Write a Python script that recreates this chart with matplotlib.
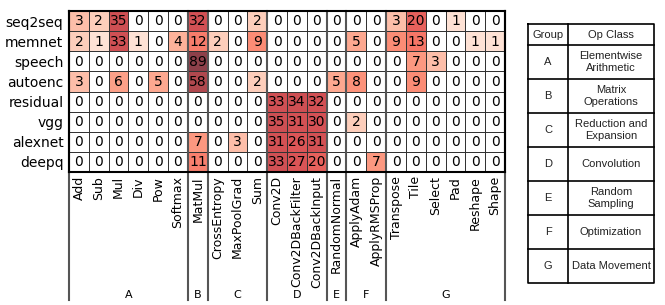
import numpy as np
import matplotlib
matplotlib.use("Agg")
import matplotlib.pyplot as plt
from matplotlib.colors import ListedColormap, FuncNorm

# modelle / ops
models = ['seq2seq', 'memnet', 'speech', 'autoenc', 'residual', 'vgg', 'alexnet', 'deepq']
ops = ['Add', 'Sub', 'Mul', 'Div', 'Pow', 'Softmax',
       'MatMul',
       'CrossEntropy', 'MaxPoolGrad', 'Sum',
       'Conv2D', 'Conv2DBackFilter', 'Conv2DBackInput',
       'RandomNormal',
       'ApplyAdam', 'ApplyRMSProp',
       'Transpose', 'Tile', 'Select', 'Pad', 'Reshape', 'Shape']
group_names = ['A', 'B', 'C', 'D', 'E', 'F', 'G']
group_sizes = [6, 1, 3, 3, 1, 2, 6]
op_classes = ['Elementwise\nArithmetic', 'Matrix\nOperations', 'Reduction and\nExpansion',
              'Convolution', 'Random\nSampling', 'Optimization', 'Data Movement']

seq2seq = [3, 2, 35, 0, 0, 0, 32, 0, 0, 2, 0, 0, 0, 0, 0, 0, 3, 20, 0, 1, 0, 0]
memnet = [2, 1, 33, 1, 0, 4, 12, 2, 0, 9, 0, 0, 0, 0, 5, 0, 9, 13, 0, 0, 1, 1]
speech = [0, 0, 0, 0, 0, 0, 89, 0, 0, 0, 0, 0, 0, 0, 0, 0, 0, 7, 3, 0, 0, 0]
autoenc = [3, 0, 6, 0, 5, 0, 58, 0, 0, 2, 0, 0, 0, 5, 8, 0, 0, 9, 0, 0, 0, 0]
residual = [0, 0, 0, 0, 0, 0, 0, 0, 0, 0, 33, 34, 32, 0, 0, 0, 0, 0, 0, 0, 0, 0]
vgg = [0, 0, 0, 0, 0, 0, 0, 0, 0, 0, 35, 31, 30, 0, 2, 0, 0, 0, 0, 0, 0, 0]
alexnet = [0, 0, 0, 0, 0, 0, 7, 0, 3, 0, 31, 26, 31, 0, 0, 0, 0, 0, 0, 0, 0, 0]
deepq = [0, 0, 0, 0, 0, 0, 11, 0, 0, 0, 33, 27, 20, 0, 0, 7, 0, 0, 0, 0, 0, 0]

data = np.array([seq2seq, memnet, speech, autoenc, residual, vgg, alexnet, deepq])

W, H = 665, 305
fig = plt.figure(figsize=(W / 100, H / 100), dpi=100)

# Reds, etwas ausgebleicht
reds = plt.get_cmap('Reds')(np.linspace(0, 1, 256))
reds[:, :3] = 0.75 * reds[:, :3] + 0.25
cmap = ListedColormap(reds)
cmap.set_bad('white')
norm = FuncNorm((lambda v: np.log1p(v), lambda v: np.expm1(v)), vmin=0, vmax=data.max())

ax = fig.add_axes([69 / W, 1 - 172 / H, 436 / W, 161 / H])
ax.pcolormesh(np.arange(len(ops) + 1), np.arange(len(models) + 1),
              np.ma.masked_equal(data, 0), cmap=cmap, norm=norm,
              edgecolors='#333333', linewidth=0.7)
ax.set_xlim(0, len(ops))
ax.set_ylim(len(models), 0)

for i in range(len(models)):
    for j in range(len(ops)):
        ax.text(j + 0.5, i + 0.52, str(data[i, j]), ha='center', va='center',
                fontsize=10, color='black')

ax.set_xticks(np.arange(len(ops)) + 0.5, ops, rotation=90, fontsize=9)
ax.set_yticks(np.arange(len(models)) + 0.5, models, fontsize=10)
ax.tick_params(length=0, pad=3)
ax.tick_params(axis='y', pad=4)
for s in ax.spines.values():
    s.set_linewidth(1.5)
    s.set_color('black')

# Gruppentrenner + Buchstaben unten
bounds = np.concatenate([[0], np.cumsum(group_sizes)])
trans = ax.get_xaxis_transform()
y_end = -(300 - 172) / 161
for b in bounds:
    ax.plot([b, b], [1, y_end], transform=trans, clip_on=False, color='#555555', lw=1.5)
for k, g in enumerate(group_names):
    ax.text((bounds[k] + bounds[k + 1]) / 2, -(295 - 172) / 161, g, transform=trans,
            ha='center', va='center', fontsize=8)

# Tabelle rechts
tax = fig.add_axes([0, 0, 1, 1])
tax.set_xlim(0, W)
tax.set_ylim(H, 0)
tax.axis('off')
x0, xm, x1 = 528, 568, 654
y_edges = np.concatenate([[24], np.linspace(45, 283, len(group_names) + 1)])
tax.plot([x0, x1, x1, x0, x0], [y_edges[0], y_edges[0], y_edges[-1], y_edges[-1], y_edges[0]],
         color='black', lw=1.2)
tax.plot([xm, xm], [y_edges[0], y_edges[-1]], color='black', lw=1.2)
for y in y_edges[1:-1]:
    tax.plot([x0, x1], [y, y], color='black', lw=1.2)

tfont = dict(fontsize=8, family=['Liberation Sans', 'DejaVu Sans'], color='#222222',
             ha='center', va='center', linespacing=1.25)
tax.text((x0 + xm) / 2, (y_edges[0] + y_edges[1]) / 2, 'Group', **tfont)
tax.text((xm + x1) / 2, (y_edges[0] + y_edges[1]) / 2, 'Op Class', **tfont)
for k in range(len(group_names)):
    yc = (y_edges[k + 1] + y_edges[k + 2]) / 2
    tax.text((x0 + xm) / 2, yc, group_names[k], **tfont)
    tax.text((xm + x1) / 2, yc, op_classes[k], **tfont)

fig.savefig('out.png', dpi=100)
